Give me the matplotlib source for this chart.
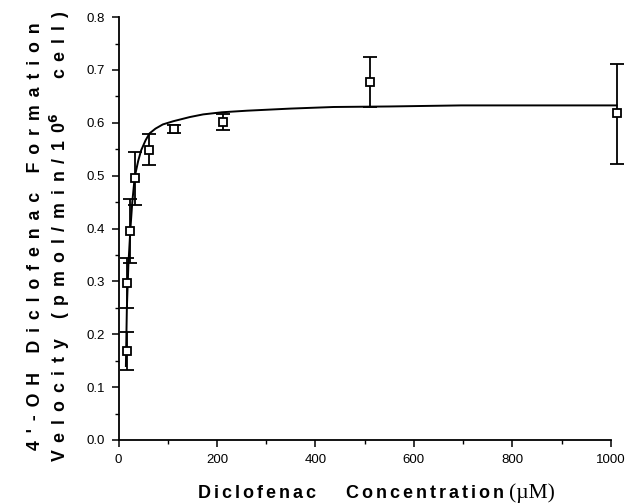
import matplotlib
matplotlib.use('Agg')
import matplotlib.pyplot as plt
from matplotlib.ticker import MultipleLocator

### data ###
conc = [17, 18, 24, 34, 61, 113, 212, 510, 1012]
vel = [0.168, 0.297, 0.395, 0.495, 0.548, 0.588, 0.602, 0.677, 0.618]
err_lo = [0.036, 0.047, 0.061, 0.051, 0.028, 0.008, 0.016, 0.047, 0.096]
err_hi = [0.036, 0.048, 0.060, 0.050, 0.030, 0.007, 0.014, 0.048, 0.093]

# fitted curve
fit_x = [15, 17, 20, 24, 28, 33, 40, 46, 55, 63, 75, 90, 111, 145, 172, 210, 261, 350, 437, 550, 696, 850, 1012]
fit_y = [0.14, 0.25, 0.33, 0.397, 0.45, 0.498, 0.528, 0.548, 0.567, 0.58, 0.589, 0.597, 0.603,
         0.611, 0.616, 0.62, 0.623, 0.627, 0.630, 0.631, 0.633, 0.633, 0.633]

xticks = [0, 200, 400, 600, 800, 1000]
yticks = [0.0, 0.1, 0.2, 0.3, 0.4, 0.5, 0.6, 0.7, 0.8]

### functions ###
def spaced(words, sp, gap):
	# letter-spaced label text, like the old typewriter style of the figure
	return gap.join(sp.join(w) for w in words)

### plot ###
fs_tick = 9.5
fs_lab = 13
font = ['Liberation Sans', 'DejaVu Sans']
ysp = ' \u200a\u200a'

fig = plt.figure(figsize=(6.31, 5.04), dpi=100)
ax = fig.add_axes([0.1878, 0.127, 0.7802, 0.839])

ax.plot(fit_x, fit_y, color='black', linewidth=1.4, clip_on=False, zorder=2)
ax.errorbar(conc, vel, yerr=[err_lo, err_hi], fmt='s', mfc='white', mec='black', mew=1.3,
            ms=6, ecolor='black', elinewidth=1.3, capsize=5, capthick=1.3, clip_on=False, zorder=3)

ax.set_xlim(0, 1000)
ax.set_ylim(0, 0.8)
ax.set_xticks(xticks)
ax.set_xticklabels([str(t) for t in xticks], fontsize=fs_tick, family=font)
ax.set_yticks(yticks)
ax.set_yticklabels(['%.1f' % t for t in yticks], fontsize=fs_tick, family=font)
ax.xaxis.set_minor_locator(MultipleLocator(100))
ax.yaxis.set_minor_locator(MultipleLocator(0.05))
ax.tick_params(which='major', direction='out', length=5, width=1.1, pad=5)
ax.tick_params(which='minor', direction='out', length=3, width=1.0)
for s in ['top', 'right']:
	ax.spines[s].set_visible(False)
for s in ['left', 'bottom']:
	ax.spines[s].set_linewidth(1.3)

# axis labels
fig.text(0.806, 0.012, spaced(['Diclofenac', 'Concentration'], '\u200a\u200a', '      ') + ' ',
         fontsize=fs_lab, fontweight='bold', family=font, ha='right', va='baseline')
fig.text(0.806, 0.012, '(\u00b5M)', fontsize=15.5, family='Liberation Serif',
         ha='left', va='baseline')
fig.text(0.056, 0.532, spaced(["4'-OH", 'Diclofenac', 'Formation'], ysp, '    '),
         fontsize=12.8, fontweight='bold', family=font, rotation=90, ha='center', va='center')
fig.text(0.095, 0.532, spaced(['Velocity', '(pmol/min/10'], ysp, '    ') + r'$^{\mathbf{6}}$' + '       '
         + spaced(['cell)'], ysp, ''),
         fontsize=12.8, fontweight='bold', family=font, rotation=90, ha='center', va='center')

plt.savefig('out.png', dpi=100)
plt.close()
